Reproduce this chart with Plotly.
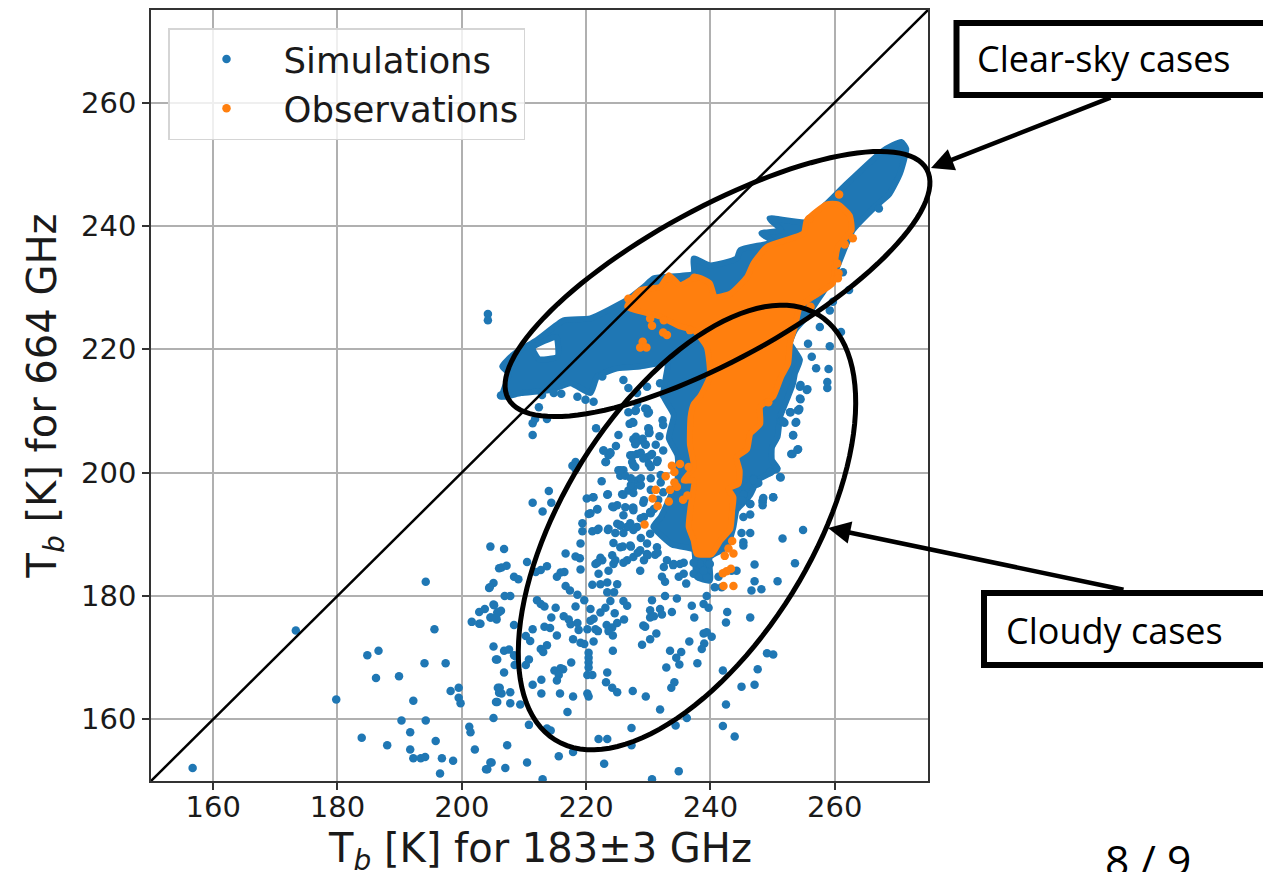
import math
import plotly.graph_objects as go

# Axis
axis_range_x = [150, 275]
axis_range_y = [150, 275]
x_ticks = [160, 180, 200, 220, 240, 260]
y_ticks = [160, 180, 200, 220, 240, 260]
identity = [150, 275]

# Individually readable simulated points (183 GHz Tb, 664 GHz Tb)
sim_far = [(156.7,152.1),(173.3,174.4),(179.8,163.2),(194.2,182.3),(184.8,170.4),(186.6,171.1),(194.0,169.1),(197.4,169.1),
(195.6,174.6),(186.2,166.7),(189.9,167.0),(198.2,164.6),(199.5,165.1),(199.5,163.5),(199.8,162.6),(192.2,163.0),(190.3,159.8),
(194.2,159.8),(183.9,157.0),(188.0,155.8),(191.7,157.9),(191.7,155.1),(192.2,153.7),(193.4,153.7),(194.1,153.9),(195.8,156.5),
(196.8,153.7),(198.6,153.3),(196.5,151.2),(201.2,158.8),(201.4,157.9),(202.1,155.1),(204.6,153.0),(203.9,151.9),(205.1,160.2),
(205.5,162.8),(205.8,165.1),(206.0,164.3),(205.5,169.7),(205.1,171.8),(201.6,175.8),(202.8,175.5),(202.8,177.4),(203.7,177.9),
(204.6,176.5),(205.1,178.6),(205.6,176.2),(205.9,177.3),(204.4,181.3),(205.1,182.1),(204.6,188.0),(206.0,184.5)]
sim_low = [(206.8,187.6),(206.4,184.6),(207.2,184.9),(210.5,185.5),(212.7,184.2),(211.9,183.9),(213.7,184.8),(208.4,183.1),
(209.1,182.7),(204.5,181.4),(206.9,180.0),(207.8,180.0),(216.7,186.9),(218.3,186.4),(219.0,186.1),(219.1,184.3),(219.1,188.5),
(215.9,183.8),(216.5,183.9),(215.3,183.1),(216.7,181.6),(217.4,180.9),(218.6,180.2),(219.7,179.3),(212.1,179.3),(212.7,178.7),
(213.3,178.3),(215.1,178.1),(218.3,178.3),(220.7,177.9),(205.2,178.5),(206.3,177.6),(205.7,177.3),(205.5,176.5),(204.7,176.5),
(203.0,175.5),(214.4,176.5),(208.4,175.3),(211.4,174.6),(213.3,175.0),(214.2,174.8),(215.3,173.6),(216.4,176.7),(217.2,176.2),
(218.6,175.6),(217.5,175.4),(218.8,174.5),(217.9,173.0),(219.1,172.4),(219.7,172.2),(221.2,172.6),(220.2,174.6),(221.5,174.6),
(221.9,174.3),(220.7,176.0),(221.2,176.3),(211.0,172.7),(210.3,173.5),(213.7,172.0),(212.7,171.4),(213.1,170.9),(206.8,171.1),
(207.6,171.3),(208.4,170.4),(208.7,170.2),(205.7,169.7),(210.8,169.7),(210.3,168.8),(208.5,168.8),(206.8,167.6),(217.6,169.2),
(216.3,168.1),(214.9,167.9),(215.9,168.3),(215.6,167.2),(215.3,166.3),(212.8,166.4),(211.4,165.6),(220.4,170.8),(220.4,170.0),
(220.4,169.2),(220.4,168.4),(220.2,167.2),(221.0,167.2),(223.4,167.6),(223.2,166.0),(224.2,165.1),(225.0,164.4),(224.3,171.1),
(223.3,175.3),(224.2,174.9),(225.0,175.6),(223.6,174.3),(224.3,173.6),(226.1,176.2),(224.6,177.2),(222.3,177.3),(223.1,178.1),
(223.9,179.2),(226.0,179.2),(226.6,178.4),(223.4,180.6),(224.5,180.6),(225.0,181.9),(221.0,181.8),(222.3,181.9),(223.4,182.2),
(227.5,164.6),(229.6,163.7),(231.9,161.6),(236.2,160.2),(234.4,159.0),(227.3,158.6),(230.3,177.7),(230.3,176.5),(230.9,176.7),
(229.2,175.2),(229.5,175.0),(231.3,173.9),(230.3,173.0),(229.0,172.1),(231.9,177.9),(232.2,177.0),(233.8,177.4),(230.6,179.3),
(232.7,180.0),(234.6,179.6),(237.0,178.4),(237.4,176.5),(238.9,178.7),(239.7,178.1),(239.4,180.0),(242.7,177.4),(242.5,175.7),
(246.4,176.5),(238.9,173.9),(240.2,173.4),(239.4,174.1),(239.0,172.3),(238.6,171.4),(236.6,172.6),(233.5,171.1),(235.3,170.9),
(234.5,170.0),(235.0,168.9),(237.9,169.1),(232.9,168.4),(234.2,166.0),(233.7,165.1),(249.1,170.7),(250.1,170.5),(247.6,168.1),
(242.0,167.9),(245.0,165.3),(247.1,165.6),(242.5,162.4),(242.0,158.9),(243.9,157.2),(223.4,156.8),(222.0,156.8),(227.3,155.8),
(217.9,154.7),(215.6,154.0),(207.3,155.8),(204.8,153.0),(204.1,151.9),(207.0,152.1),(210.5,153.0),(222.9,152.8),(234.9,151.6),
(230.6,150.3),(213.0,150.3),(210.8,159.1),(214.3,158.2),(213.7,158.5),(217.0,161.2),(209.4,162.4),(207.8,162.6),(205.7,162.8),
(207.8,164.4),(206.4,164.2),(206.1,165.1),(212.8,164.2),(215.8,164.2),(217.9,163.7),(220.2,164.2),(220.4,163.7)]
sim_mid = [(211.4,206.1),(211.4,208.0),(211.8,208.7),(213.7,208.7),(221.6,207.2),(225.2,206.1),(227.0,207.9),(227.6,208.1),
(230.1,209.8),(229.8,210.3),(227.9,210.0),(226.8,209.8),(230.1,207.1),(230.1,206.4),(227.6,205.4),(227.9,204.6),(229.0,205.2),
(229.5,204.6),(222.8,203.6),(223.9,203.1),(223.6,202.8),(223.2,201.7),(217.8,201.1),(218.3,201.7),(218.3,200.6),(227.1,202.8),
(228.2,203.0),(227.4,201.7),(227.9,200.9),(225.2,200.4),(226.0,200.4),(225.5,199.5),(226.3,199.5),(222.5,198.6),(229.8,202.5),
(230.6,203.0),(231.4,201.7),(230.1,201.4),(228.2,198.7),(228.7,197.9),(227.6,197.6),(226.8,197.1),(225.8,196.5),(223.4,196.4),
(220.1,195.8),(221.1,196.0),(214.0,197.0),(211.4,195.1),(214.4,195.1),(213.0,193.7),(221.8,194.0),(220.4,193.3),(224.2,194.5),
(225.0,194.7),(226.3,194.4),(227.6,194.3),(219.4,191.8),(219.4,190.5),(221.0,190.5),(222.0,190.9),(223.6,190.9),(225.0,191.7),
(225.5,187.9),(227.1,188.2),(228.7,187.4),(229.8,186.8),(231.1,186.7),(224.2,186.6),(224.4,185.2),(223.6,184.1),(222.0,183.6),
(226.6,185.8),(227.6,186.3),(229.3,185.8),(228.7,184.1),(229.8,188.5),(231.4,187.9),(230.3,190.1),(228.2,191.2),(226.6,191.2),
(225.5,191.4),(229.3,192.8),(230.3,193.6),(230.9,194.1),(227.6,193.9),(229.3,195.5),(221.5,185.2),(222.6,185.8),(234.1,185.2),
(235.1,185.2),(235.7,183.6),(234.9,183.1),(232.5,184.7),(233.0,185.8),(232.2,183.1),(232.7,182.3),(236.1,182.0),(237.3,183.6),
(238.3,185.2),(239.9,185.2),(238.3,183.1),(239.4,183.1),(238.9,184.1),(241.3,183.1),(243.4,184.1),(244.2,184.1),(241.8,181.4),
(240.7,181.4),(247.1,185.1),(247.1,182.4),(246.6,180.9),(248.2,181.1),(250.8,182.4),(253.6,185.3),(251.6,189.3),(254.9,190.7),
(245.3,188.7),(245.3,188.2),(245.0,190.2),(246.4,190.2),(246.4,193.2),(246.4,194.9),(245.0,195.5),(245.3,196.5),(245.3,192.8),
(248.4,195.5),(248.4,194.7),(250.1,196.0),(247.4,198.2),(246.9,199.0),(245.3,198.7),(251.3,199.2),(250.6,200.6),(249.6,200.1),
(253.0,203.0),(254.0,203.7),(253.3,206.0),(253.7,208.1),(254.2,210.1),(252.8,209.8),(251.4,208.4),(251.9,208.1)]
sim_stem = [(221.2,196.0),(223.5,196.5),(221.8,194.1),(220.7,193.4),(224.4,194.4),(226.0,196.4),(227.6,196.7),(229.2,195.1),
(227.5,194.3),(226.0,193.1),(225.5,191.5),(227.1,191.8),(228.8,192.6),(230.4,193.4),(221.8,190.7),(223.5,190.7),(224.7,190.2),
(226.0,190.2),(227.6,190.7),(228.8,189.4),(224.4,188.6),(225.9,188.0),(227.2,188.0),(228.3,187.0),(229.9,186.6),(231.5,187.0),
(224.7,185.8),(222.3,186.2),(221.8,185.4),(226.0,185.4),(234.0,185.0),(235.7,185.4),(237.3,185.4),(230.4,197.2),(228.8,198.0),
(227.2,198.0),(228.0,210.1),(229.9,209.6),(227.5,208.2),(230.0,207.2),(230.2,206.5),(232.3,208.5),(232.4,207.7),(231.8,205.9),
(228.0,205.8),(228.0,204.8),(229.1,205.5),(229.6,204.5),(231.2,204.5),(232.4,203.6),(230.4,202.8),(231.5,202.0),(227.5,202.8),
(228.8,203.2),(227.6,201.2),(225.5,200.4),(230.4,200.9),(229.2,202.3),(224.8,204.3),(223.9,203.3),(222.8,203.6),(223.1,201.7),
(228.8,199.1),(230.4,199.1),(232.0,199.6),(227.2,199.1),(232.4,196.8),(231.6,195.6),(232.0,198.4)]
sim_right = [(254.5,214.2),(255.6,213.5),(254.5,211.9),(254.3,210.3),(252.9,209.8),(251.7,208.3),(253.8,208.2),(253.3,206.1),
(254.1,203.8),(253.2,203.0),(251.2,199.3),(250.1,196.0),(248.4,195.2),(248.5,195.9),(246.4,194.9),(247.7,198.3),(246.9,198.8),
(245.3,196.4),(245.1,195.5)]
sim_high = [(204.2,225.7),(204.2,224.7),(267.1,242.8),(261.3,232.5),(262.3,229.6),(259.7,227.7),(259.2,226.3),(261.0,222.8),
(259.2,220.5),(257.6,223.6),(255.7,220.9),(256.3,218.8),(257.0,216.9),(259.0,216.8),(258.8,214.7),(258.8,213.7),(254.4,213.9),
(255.5,213.4),(254.4,212.0),(254.1,210.1),(218.6,212.3),(221.2,211.5),(219.9,211.8),(216.0,212.8),(206.3,212.5),(212.4,210.6),
(228.2,211.2),(229.5,210.4),(226.0,215.0),(226.8,213.7),(228.2,212.9),(229.8,213.9),(231.9,214.5),(232.5,212.6),(222.6,215.6),
(212.9,212.6),(214.8,212.9)]

# Outline of the part of the simulated cloud where points merge into a solid area
sim_dense = [(270.7,253.6),(271.5,252.5),(270.5,248.5),(268.8,245.2),(266.7,243.3),(262.9,239.3),(259.7,231.7),(257.6,228.5),
(255.5,225.3),(253.6,223.1),(252.8,221.0),(254.4,218.3),(253.6,216.1),(253.3,214.5),(252.4,212.1),(251.2,209.0),(250.8,205.8),
(249.9,204.1),(249.9,202.0),(250.8,200.7),(249.6,199.9),(247.6,198.8),(246.4,196.4),(245.3,195.1),(244.2,193.9),(243.7,191.2),
(242.6,187.9),(239.9,186.3),(239.9,182.5),(237.8,183.1),(237.3,187.5),(233.9,188.3),(232.3,189.6),(230.8,191.2),(232.0,192.8),
(233.5,196.0),(234.7,199.0),(234.7,202.8),(233.3,205.6),(234.1,209.3),(232.4,212.5),(233.0,217.7),(228.7,217.2),(225.0,216.9),
(221.8,215.6),(220.7,212.9),(217.5,214.5),(214.3,213.4),(209.5,212.9),(206.5,212.3),(207.6,216.1),(206.5,217.2),(208.5,219.3),
(212.1,221.5),(216.4,224.7),(220.7,225.0),(226.6,228.0),(229.3,230.1),(230.9,231.5),(237.3,232.3),(237.3,234.7),(239.9,233.6),
(244.2,234.7),(244.8,236.1),(250.1,237.4),(248.2,238.8),(251.4,239.3),(249.5,241.2),(255.5,240.6),(258.7,243.6),(261.9,246.8),
(267.8,252.2),(270.7,253.6)]
# Empty pocket inside that solid area
sim_gap = [(211.4,220.2),(212.4,218.4),(215.4,218.8),(215.2,222.0),(211.4,220.2)]

# Outline of the solid part of the observations, then its readable separate points
obs_dense = [(258.7,243.5),(260.5,243.5),(262.4,241.7),(262.7,239.3),(260.5,236.6),(260.0,233.9),(259.7,230.7),(256.5,228.5),
(254.4,226.9),(253.6,223.7),(252.8,221.0),(252.5,217.7),(251.4,215.6),(250.1,212.3),(248.0,210.7),(248.0,207.9),(246.4,206.3),
(245.9,203.8),(244.2,202.5),(244.7,200.3),(244.5,198.2),(242.9,197.4),(243.7,196.0),(243.5,193.9),(243.2,190.9),(241.6,189.0),
(240.2,186.8),(237.8,186.8),(237.3,189.0),(236.5,191.2),(236.8,194.4),(237.3,198.7),(235.7,198.7),(237.3,200.9),(236.7,204.6),
(236.8,209.0),(237.3,211.1),(238.3,212.3),(239.9,215.6),(239.4,220.4),(237.3,223.1),(235.1,223.7),(231.9,225.3),(226.6,226.9),
(228.7,229.6),(231.9,230.1),(233.3,232.0),(235.1,230.4),(237.8,231.7),(239.9,230.7),(240.7,228.5),(243.2,229.0),(245.9,231.7),
(246.9,233.9),(249.1,236.6),(255.0,238.8),(255.5,240.9),(258.7,243.5)]
obs_points = [(260.7,245.1),(255.9,241.1),(262.9,238.0),(261.6,237.0),(260.4,233.9),(260.6,232.3),(260.5,231.5),(256.1,226.9),
(226.8,228.2),(237.4,231.6),(233.3,231.5),(230.3,225.0),(230.6,223.8),(232.4,222.7),(233.0,222.3),(229.1,221.2),(228.7,220.3),
(229.7,220.3),(232.5,224.7),(236.7,223.1),(249.3,211.4),(233.8,201.1),(235.1,201.4),(236.5,200.9),(234.2,200.1),(232.8,199.4),
(234.2,198.4),(234.6,197.7),(233.5,197.2),(231.2,197.2),(230.7,195.8),(231.5,194.6),(233.3,195.3),(235.6,195.6),(236.3,196.3),
(229.4,191.6),(243.5,188.9),(242.9,187.7),(243.7,186.9),(242.3,186.5),(243.3,184.4),(242.6,184.0),(242.0,183.7),(242.1,181.6),
(243.7,181.6)]

series_names = ["Simulations", "Observations"]
x_title = "T<sub><i>b</i></sub> [K] for 183±3 GHz"
y_title = "T<sub><i>b</i></sub> [K] for 664 GHz"
blue, orange = "#1f77b4", "#ff7f0e"
sim_all = sim_far + sim_low + sim_mid + sim_stem + sim_right + sim_high

W, H = 1263, 872
L, R, T, B = 151, 928, 10, 781
def px(x): return (x - L) / (R - L)
def py(y): return (B - y) / (B - T)
def ellipse_path(cx, cy, a, b, deg):
    th = math.radians(deg)
    pts = []
    for i in range(120):
        t = 2 * math.pi * i / 120
        ex, ey = a * math.cos(t), b * math.sin(t)
        pts.append((cx + ex * math.cos(th) - ey * math.sin(th), cy - ex * math.sin(th) - ey * math.cos(th)))
    return "M " + " L ".join(f"{px(u):.5f},{py(v):.5f}" for u, v in pts) + " Z"

edge = dict(shape="spline", smoothing=0.5, width=6)
fig = go.Figure()
fig.add_trace(go.Scatter(x=[p[0] for p in sim_dense] + [None] + [p[0] for p in sim_gap],
    y=[p[1] for p in sim_dense] + [None] + [p[1] for p in sim_gap],
    mode="lines", fill="toself", fillcolor=blue, line=dict(color=blue, **edge), showlegend=False, hoverinfo="skip"))
fig.add_trace(go.Scatter(x=[p[0] for p in sim_all], y=[p[1] for p in sim_all], mode="markers", name=series_names[0],
    marker=dict(color=blue, size=8.5)))
fig.add_trace(go.Scatter(x=[p[0] for p in obs_dense], y=[p[1] for p in obs_dense],
    mode="lines", fill="toself", fillcolor=orange, line=dict(color=orange, **edge), showlegend=False, hoverinfo="skip"))
fig.add_trace(go.Scatter(x=[p[0] for p in obs_points], y=[p[1] for p in obs_points], mode="markers", name=series_names[1],
    marker=dict(color=orange, size=8.5)))
fig.add_trace(go.Scatter(x=identity, y=identity, mode="lines", line=dict(color="black", width=2.5), showlegend=False, hoverinfo="skip"))

axis_common = dict(showgrid=True, gridcolor="#b0b0b0", gridwidth=1.5, showline=True, linecolor="#333333", linewidth=1.5, mirror=True,
    ticks="outside", ticklen=7, tickwidth=1.5, tickcolor="#333333", zeroline=False,
    tickfont=dict(family="DejaVu Sans", size=29, color="#1a1a1a"))
fig.update_xaxes(range=axis_range_x, tickvals=x_ticks, ticklabelstandoff=-8, **axis_common)
fig.update_yaxes(range=axis_range_y, tickvals=y_ticks,
    title=dict(text=y_title, font=dict(family="DejaVu Sans", size=40, color="#1a1a1a"), standoff=12), **axis_common)

shapes = [
    dict(type="path", xref="paper", yref="paper", path=ellipse_path(717.5, 284, 238.6, 76, 28.7), line=dict(color="black", width=5)),
    dict(type="path", xref="paper", yref="paper", path=ellipse_path(687, 527.5, 250, 124, 58.2), line=dict(color="black", width=5)),
    dict(type="rect", xref="paper", yref="paper", x0=px(956.5), x1=px(1266), y0=py(95), y1=py(23), line=dict(color="black", width=6), fillcolor="white"),
    dict(type="rect", xref="paper", yref="paper", x0=px(984), x1=px(1266), y0=py(665), y1=py(593), line=dict(color="black", width=6), fillcolor="white"),
]
def text_note(s, x, y, size):
    return dict(text=s, xref="paper", yref="paper", x=px(x), y=py(y), xanchor="left", yanchor="middle", showarrow=False,
                font=dict(family="Open Sans", size=size, color="black"))
def arrow_note(x0, y0, x1, y1):
    return dict(text="", xref="paper", yref="paper", x=px(x1), y=py(y1), ax=x0 - x1, ay=y0 - y1, axref="pixel", ayref="pixel",
                showarrow=True, arrowhead=2, arrowsize=1, arrowwidth=4.5, arrowcolor="black")
notes = [
    dict(text=x_title, xref="paper", yref="paper", x=0.5, y=py(851), xanchor="center", yanchor="middle", showarrow=False,
         font=dict(family="DejaVu Sans", size=40, color="#1a1a1a")),
    text_note("Clear-sky cases", 975, 58, 36),
    text_note("Cloudy cases", 1004, 630, 36),
    dict(text="8 / 9", xref="paper", yref="paper", x=px(1103), y=py(829), xanchor="left", yanchor="top", showarrow=False,
         font=dict(family="Open Sans", size=42.5, color="black")),
    arrow_note(1112, 97, 931, 168),
    arrow_note(1125, 590, 828, 528),
]

fig.update_layout(width=W, height=H, margin=dict(l=L, r=W - R, t=T, b=H - B, autoexpand=False), paper_bgcolor="white", plot_bgcolor="white",
    shapes=shapes, annotations=notes,
    legend=dict(x=px(168), y=py(28), xanchor="left", yanchor="top", bgcolor="rgba(255,255,255,0.8)", bordercolor="#d5d5d5", borderwidth=1.5,
                font=dict(family="DejaVu Sans", size=35.5, color="#1a1a1a"), itemsizing="trace", itemwidth=104))

fig.write_html("out.html", config=dict(displayModeBar=False), post_script="document.body.style.margin='0';")
